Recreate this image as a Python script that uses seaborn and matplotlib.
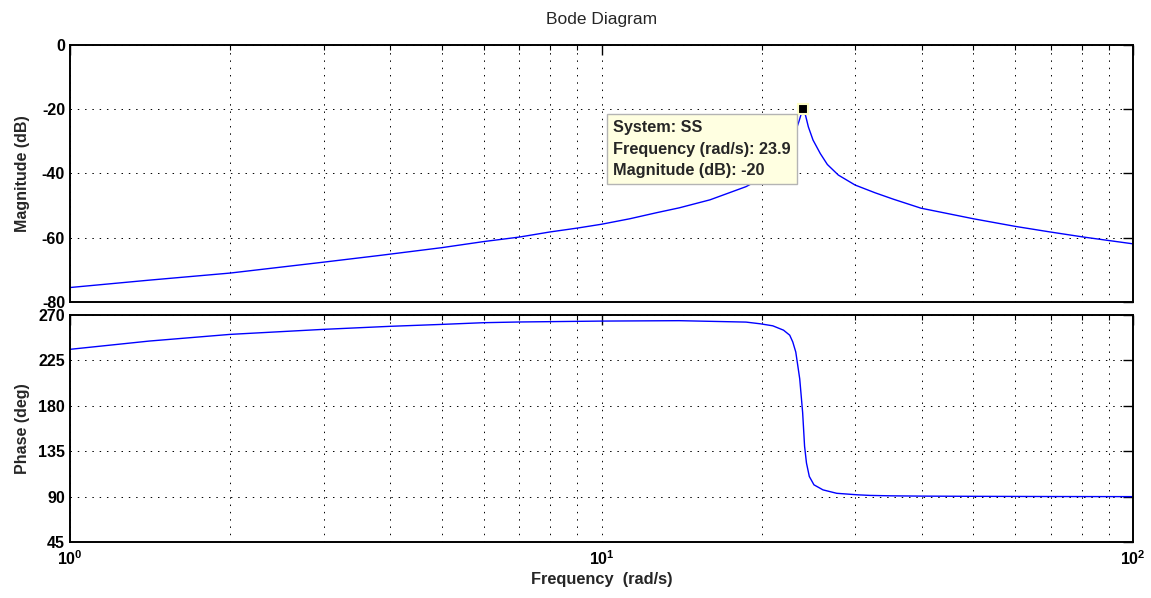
import numpy as np
import pandas as pd
import matplotlib
matplotlib.use("Agg")
import matplotlib.pyplot as plt
import seaborn as sns

# ---- data ----
mag_freq = [1, 1.41, 2, 3, 3.83, 5, 6, 7, 8, 9, 10, 11.3, 12.7, 14, 16, 18.7,
            20, 21, 22, 23, 23.5, 23.9, 24.2, 24.5, 25.0, 25.8, 26.6, 27.9,
            30.0, 32.7, 35.4, 39.9, 50.1, 60.2, 69.8, 80.8, 100]
mag_db = [-75.5, -73.2, -71.0, -67.6, -65.5, -63.1, -61.2, -59.8, -58.2, -57.0,
          -55.8, -54.1, -52.2, -50.7, -48.2, -44.1,
          -41.5, -38.5, -34.5, -28.5, -24.0, -20.0, -21.9, -25.5, -29.6, -33.8,
          -37.2, -40.5, -43.6, -46.0, -48.0, -50.8, -54.1, -56.5, -58.2,
          -59.8, -61.9]

ph_freq = [1, 1.41, 2, 3, 4, 5, 6, 7, 10, 14, 16.2, 18.7, 19.9, 21.0, 22.0,
           22.6, 22.9, 23.2, 23.4, 23.6, 23.75, 23.9, 24.0, 24.1, 24.3, 24.6,
           25.1, 26.1, 27.7, 30.3, 32.0, 34.9, 40, 50, 70, 100]
ph_deg = [236.0, 244.2, 250.8, 255.8, 258.8, 260.7, 262.4, 263.1, 264.0, 264.4,
          263.7, 263.0, 261.3, 259.3, 255.0,
          250.0, 243.3, 233.3, 220.0, 206.7, 190.0, 173.3, 156.7, 140.0, 123.3,
          110.0, 101.7, 96.7, 93.3, 91.8, 91.2, 90.8, 90.5, 90.3, 90.1, 90.0]

mag_ticks = [-80, -60, -40, -20, 0]
ph_ticks = [45, 90, 135, 180, 225, 270]
x_ticks = [1, 10, 100]
x_ticklabels = [r"$\mathbf{10^{0}}$", r"$\mathbf{10^{1}}$", r"$\mathbf{10^{2}}$"]

tip_system = "SS"
tip_freq = 23.9
tip_mag = -20

title = "Bode Diagram"
xlabel = "Frequency  (rad/s)"
ylabel_mag = "Magnitude (dB)"
ylabel_ph = "Phase (deg)"

# ---- style ----
sns.set_style("white")
plt.rcParams["font.family"] = ["Liberation Sans", "DejaVu Sans"]
plt.rcParams["axes.unicode_minus"] = False
plt.rcParams["mathtext.fontset"] = "custom"
plt.rcParams["mathtext.bf"] = "Liberation Sans:bold"
plt.rcParams["mathtext.rm"] = "Liberation Sans"

fig = plt.figure(figsize=(11.51, 5.98), dpi=100)
ax1 = fig.add_axes([0.0608, 0.4950, 0.9236, 0.4298])
ax2 = fig.add_axes([0.0608, 0.0936, 0.9236, 0.3796])

df_mag = pd.DataFrame({"f": mag_freq, "v": mag_db})
df_ph = pd.DataFrame({"f": ph_freq, "v": ph_deg})

line_color = "#0000FF"
sns.lineplot(data=df_mag, x="f", y="v", ax=ax1, color=line_color, lw=1.0,
             estimator=None, sort=False)
sns.lineplot(data=df_ph, x="f", y="v", ax=ax2, color=line_color, lw=1.0,
             estimator=None, sort=False)

grid_ls = (0, (1.5, 6))
for ax, yt in ((ax1, mag_ticks), (ax2, ph_ticks)):
    ax.set_xscale("log")
    ax.set_xlim(x_ticks[0], x_ticks[-1])
    ax.set_ylim(yt[0], yt[-1])
    ax.set_yticks(yt)
    ax.set_xticks(x_ticks)
    ax.set_xlabel("")
    ax.grid(which="major", axis="both", linestyle=grid_ls, color="black", lw=0.7)
    ax.grid(which="minor", axis="x", linestyle=grid_ls, color="black", lw=0.7)
    ax.tick_params(which="both", direction="in", top=True, right=True,
                   labelsize=11.5, colors="black")
    ax.tick_params(which="major", length=7, width=1.0)
    ax.tick_params(which="minor", length=3.5, width=0.8)
    for lbl in ax.get_yticklabels():
        lbl.set_fontweight("bold")
    for sp in ax.spines.values():
        sp.set_linewidth(1.4)
        sp.set_color("black")

ax1.set_xticklabels([])
ax1.tick_params(which="both", labelbottom=False)
ax2.set_xticklabels(x_ticklabels)
ax2.tick_params(axis="x", which="major", pad=5)

ax1.set_ylabel(ylabel_mag, fontsize=11.5, fontweight="bold")
ax2.set_ylabel(ylabel_ph, fontsize=11.5, fontweight="bold")
ax1.yaxis.set_label_coords(-0.0376, 0.5)
ax2.yaxis.set_label_coords(-0.0376, 0.5)
ax2.set_xlabel(xlabel, fontsize=11.8, fontweight="bold", labelpad=3)
ax1.set_title(title, fontsize=12.5, pad=15)

# data tip
ax1.plot([tip_freq], [tip_mag], marker="s", ms=6.5, mfc="black",
         mec="#FFFFC8", mew=1.5, ls="none", zorder=5)
tip_text = (f"System: {tip_system}\nFrequency (rad/s): {tip_freq}\n"
            f"Magnitude (dB): {tip_mag:g}")
ax1.annotate(tip_text, xy=(tip_freq, tip_mag), xycoords="data",
             xytext=(-136.2, -7.7), textcoords="offset points",
             ha="left", va="top", fontsize=11.7, fontweight="bold",
             linespacing=1.55,
             bbox=dict(boxstyle="square,pad=0.38", fc="#FFFFE1",
                       ec="#B4B4B4", lw=1.0),
             zorder=6)

fig.savefig("out.png", dpi=100)
